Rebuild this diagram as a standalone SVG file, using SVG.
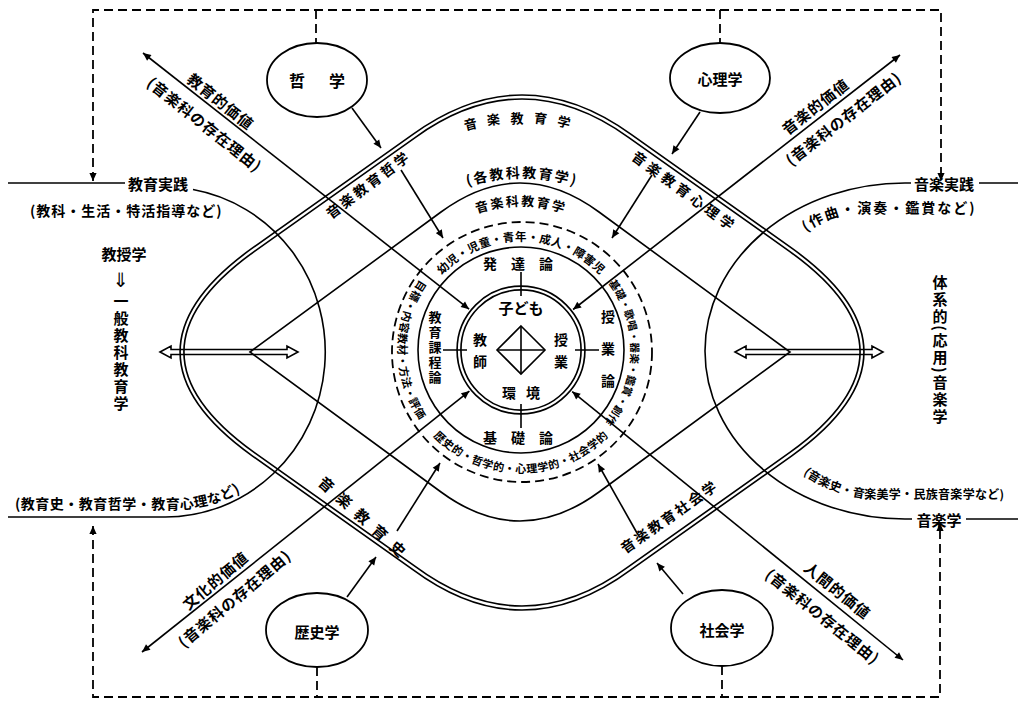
<svg xmlns="http://www.w3.org/2000/svg" width="1022" height="703" viewBox="0 0 1022 703">
<defs>
<marker id="ah" viewBox="0 0 10 10" refX="10" refY="5" markerWidth="9" markerHeight="8" markerUnits="userSpaceOnUse" orient="auto-start-reverse"><path d="M0,0.5 L10,5 L0,9.5 Z" fill="#000"/></marker>
<path id="pTop" d="M402,160 Q522,85 642,160"/>
<path id="pKaku" d="M420,206 Q522,150 624,206"/>
<path id="pOngakuka" d="M430,238 Q521,174 612,238"/>
<path id="pRingTop" d="M431.7,287.5 A109,109 0 0 1 610.3,287.5"/>
<path id="pRingRight" d="M602.7,276.4 A110,110 0 0 1 602.7,423.6"/>
<path id="pRingBottom" d="M426.8,429.1 A123,123 0 0 0 615.2,429.1"/>
<path id="pRingLeft" d="M420.2,279.4 A123,123 0 0 0 420.2,420.6"/>
<path id="pSakkyoku" d="M806,232 Q832,214 862,213 L995,213"/>
<path id="pKyoikushi" d="M15,509 L185,509 Q225,506 258,480"/>
<path id="pOngakushi" d="M803,474 Q830,494 870,499 L1015,499"/>
</defs>
<style>
.t{font-family:"Noto Sans CJK JP","Noto Sans CJK SC",sans-serif;font-weight:700;fill:#000}
.c{text-anchor:middle;dominant-baseline:central}
.v{writing-mode:vertical-rl;text-anchor:middle}
.m{text-anchor:middle}
.ln{fill:none;stroke:#000;stroke-width:1.6}
.dl{fill:none;stroke:#000;stroke-width:1.8;stroke-dasharray:9 5}
.dbl{fill:none;stroke:#000;stroke-width:5.5}
.dbw{fill:none;stroke:#fff;stroke-width:2.2}
.ell{fill:#fff;stroke:#000;stroke-width:1.8}
</style>
<rect width="1022" height="703" fill="#fff"/>

<g id="frame">
<path class="dl" d="M93,181 L93,10 L941,10 L941,181" marker-start="url(#ah)" marker-end="url(#ah)"/>
<path class="dl" d="M93,526 L93,697 L940,697 L940,523" marker-start="url(#ah)" marker-end="url(#ah)"/>
<line class="dl" x1="316" y1="10" x2="316" y2="43"/>
<line class="dl" x1="720" y1="10" x2="720" y2="43"/>
<line class="dl" x1="317" y1="667" x2="317" y2="697"/>
<line class="dl" x1="722" y1="666" x2="722" y2="697"/>
</g>

<g id="outer-shape">
<path class="dbl" d="M253,250 L414,136 Q522,58 630,136 L791,250 Q933,352 791,454 L630,568 Q522,648 414,568 L253,454 Q111,352 253,250 Z"/>
<path class="dbw" d="M253,250 L414,136 Q522,58 630,136 L791,250 Q933,352 791,454 L630,568 Q522,648 414,568 L253,454 Q111,352 253,250 Z"/>
<text class="t m" font-size="13" letter-spacing="10"><textPath href="#pTop" startOffset="50%">音楽教育学</textPath></text>
<text class="t m" font-size="14" letter-spacing="2"><textPath href="#pKaku" startOffset="50%">(各教科教育学)</textPath></text>
</g>

<g id="inner-shape">
<path class="ln" stroke-width="2" d="M250,352 L441,212 Q520,154 599,212 L790,352 L599,492 Q520,550 441,492 Z"/>
<text class="t m" font-size="13" letter-spacing="2"><textPath href="#pOngakuka" startOffset="50%">音楽科教育学</textPath></text>
</g>

<g id="ring">
<circle cx="522" cy="352" r="130" class="dl" stroke-width="1.6"/>
<circle cx="521" cy="350" r="103" class="ln" stroke-width="2"/>
<text class="t m" font-size="11.5" letter-spacing="0.3"><textPath href="#pRingTop" startOffset="50%">幼児・児童・青年・成人・障害児</textPath></text>
<text class="t m" font-size="10.5" letter-spacing="0.2"><textPath href="#pRingRight" startOffset="52%">基礎・歌唱・器楽・鑑賞・創作</textPath></text>
<text class="t m" font-size="11" letter-spacing="0.5"><textPath href="#pRingBottom" startOffset="50%">歴史的・哲学的・心理学的・社会学的</textPath></text>
<text class="t m" font-size="11" letter-spacing="0.5"><textPath href="#pRingLeft" startOffset="50%">目標・内容教材・方法・評価</textPath></text>
<text class="t c" x="525" y="263" font-size="14" letter-spacing="14">発達論</text>
<text class="t c" x="525" y="437" font-size="14" letter-spacing="14">基礎論</text>
<text class="t v" x="435" y="348" font-size="13" letter-spacing="2">教育課程論</text>
<text class="t v" x="608" y="358" font-size="14" letter-spacing="18">授業論</text>
</g>

<g id="core">
<circle cx="521" cy="350" r="62" class="dbl" stroke-width="5"/>
<circle cx="521" cy="350" r="62" class="dbw" stroke-width="2"/>
<path class="ln" d="M521,272 V296 M521,404 V428 M443,350 H467 M575,350 H599 M521,326 V374 M497,350 H545"/>
<path class="ln" d="M521,326 L545,350 L521,374 L497,350 Z"/>
<text class="t c" x="521" y="307" font-size="15">子ども</text>
<text class="t c" x="526" y="392" font-size="14" letter-spacing="10">環境</text>
<text class="t v" x="480" y="355" font-size="14" letter-spacing="8">教師</text>
<text class="t v" x="561" y="355" font-size="14" letter-spacing="8">授業</text>
</g>

<g id="node-tetsugaku">
<ellipse class="ell" cx="317" cy="80" rx="50" ry="37"/>
<text class="t c" x="329" y="80" font-size="16" letter-spacing="24">哲学</text>
</g>
<g id="node-shinrigaku">
<ellipse class="ell" cx="720" cy="78" rx="50" ry="35"/>
<text class="t c" x="720" y="78" font-size="15">心理学</text>
</g>
<g id="node-rekishigaku">
<ellipse class="ell" cx="317" cy="630" rx="51" ry="37"/>
<text class="t c" x="317" y="631" font-size="15">歴史学</text>
</g>
<g id="node-shakaigaku">
<ellipse class="ell" cx="722" cy="628" rx="51" ry="38"/>
<text class="t c" x="722" y="629" font-size="15">社会学</text>
</g>

<g id="connectors">
<line class="ln" x1="469.1" y1="309.2" x2="143" y2="53" marker-start="url(#ah)" marker-end="url(#ah)"/>
<line class="ln" x1="573.1" y1="309.5" x2="900" y2="55" marker-start="url(#ah)" marker-end="url(#ah)"/>
<line class="ln" x1="469.4" y1="391.1" x2="142" y2="652" marker-start="url(#ah)" marker-end="url(#ah)"/>
<line class="ln" x1="572.2" y1="391.6" x2="903" y2="660" marker-start="url(#ah)" marker-end="url(#ah)"/>
<line class="ln" x1="352" y1="108" x2="381" y2="148" marker-end="url(#ah)"/>
<line class="ln" x1="700" y1="112" x2="672" y2="154" marker-end="url(#ah)"/>
<line class="ln" x1="347" y1="597" x2="376" y2="557" marker-end="url(#ah)"/>
<line class="ln" x1="683" y1="594" x2="657" y2="563" marker-end="url(#ah)"/>
<line class="ln" x1="401" y1="170" x2="443" y2="238" marker-end="url(#ah)"/>
<line class="ln" x1="652" y1="175" x2="612" y2="238" marker-end="url(#ah)"/>
<line class="ln" x1="397" y1="531" x2="440" y2="463" marker-end="url(#ah)"/>
<line class="ln" x1="637" y1="533" x2="598" y2="464" marker-end="url(#ah)"/>
<path class="ln" d="M8,183 L125,183"/>
<path class="ln" d="M8,517 L165,517 A160,165 0 0 0 193,189.5"/>
<path class="ln" d="M911,183 L905,183 A200,168 0 0 0 705,351 A200,168 0 0 0 905,519 L912,519"/>
<path class="ln" d="M979,183 L1018,183"/>
<path class="ln" d="M966,519 L1018,519"/>
<path class="ln" stroke-width="1.5" d="M160,352 L171,346 L171,349.5 L287,349.5 L287,346 L298,352 L287,358 L287,354.5 L171,354.5 L171,358 Z"/>
<path class="ln" stroke-width="1.5" d="M735,352 L746,346 L746,349.5 L872,349.5 L872,346 L883,352 L872,358 L872,354.5 L746,354.5 L746,358 Z"/>
</g>

<g id="labels">
<text class="t c" x="158" y="183" font-size="15">教育実践</text>
<text class="t" x="30" y="216" font-size="14" letter-spacing="1">(教科・生活・特活指導など)</text>
<text class="t c" x="944" y="183" font-size="15">音楽実践</text>
<text class="t" font-size="14" letter-spacing="2"><textPath href="#pSakkyoku">(作曲・演奏・鑑賞など)</textPath></text>
<text class="t c" x="939" y="519" font-size="15">音楽学</text>
<text class="t" font-size="12" letter-spacing="0.3"><textPath href="#pOngakushi">(音楽史・音楽美学・民族音楽学など)</textPath></text>
<text class="t" font-size="14" letter-spacing="0.5"><textPath href="#pKyoikushi">(教育史・教育哲学・教育心理など)</textPath></text>
<text class="t c" x="124" y="253" font-size="15">教授学</text>
<text class="c" x="121" y="280" font-size="20" font-family="DejaVu Sans, sans-serif">⇓</text>
<text class="t v" x="121" y="353" font-size="15" letter-spacing="2">一般教科教育学</text>
<text class="t v" x="940" y="350" font-size="15" letter-spacing="2">体系的(応用)音楽学</text>
<text class="t c" transform="translate(221,101) rotate(38.5)" font-size="15" letter-spacing="1">教育的価値</text>
<text class="t c" transform="translate(205,124) rotate(38.5)" font-size="15" letter-spacing="1">(音楽科の存在理由)</text>
<text class="t c" transform="translate(815,106) rotate(-37.8)" font-size="15" letter-spacing="1">音楽的価値</text>
<text class="t c" transform="translate(843,118) rotate(-37.8)" font-size="15" letter-spacing="1">(音楽科の存在理由)</text>
<text class="t c" transform="translate(215,580) rotate(-40)" font-size="15" letter-spacing="1">文化的価値</text>
<text class="t c" transform="translate(234,598) rotate(-40)" font-size="15" letter-spacing="1">(音楽科の存在理由)</text>
<text class="t c" transform="translate(838,590) rotate(38.9)" font-size="15" letter-spacing="1">人間的価値</text>
<text class="t c" transform="translate(823,616) rotate(38.9)" font-size="15" letter-spacing="1">(音楽科の存在理由)</text>
<text class="t c" transform="translate(368,184) rotate(-37)" font-size="14" letter-spacing="3">音楽教育哲学</text>
<text class="t c" transform="translate(685,191) rotate(36)" font-size="14" letter-spacing="4">音楽教育心理学</text>
<text class="t c" transform="translate(366,519) rotate(42)" font-size="15" letter-spacing="9">音楽教育史</text>
<text class="t c" transform="translate(669,516) rotate(-35)" font-size="14" letter-spacing="2.5">音楽教育社会学</text>
</g>
</svg>
